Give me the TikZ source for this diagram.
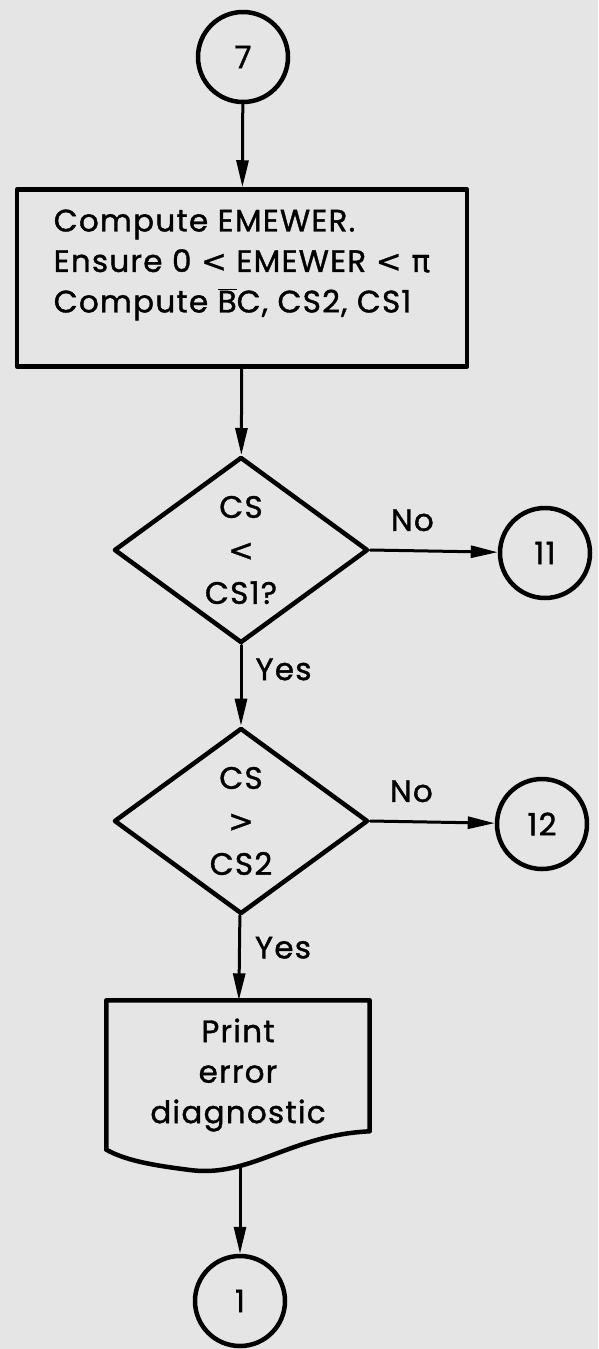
\documentclass[tikz,border=0pt]{standalone}
\usepackage{fontspec}
\setmainfont{Poppins}[FakeBold=1.2,LetterSpace=4]
\newfontfamily\symfont{DejaVu Sans}[FakeBold=1]
\usetikzlibrary{shapes.geometric,arrows.meta}
\definecolor{paper}{RGB}{229,229,229}

\begin{document}
\begin{tikzpicture}[
	x=1pt,y=-1pt,
	>={Triangle[length=27pt,width=12pt]},
	line cap=round,
	line join=round,
	font=\fontsize{31}{40.5}\selectfont,
	flowline/.style={->,line width=3pt},
	connector/.style={circle,draw,line width=4.5pt,minimum size=90pt,inner sep=0pt},
	process/.style={rectangle,draw,line width=4.5pt,minimum width=450pt,minimum height=177pt,align=left,text depth=34pt},
	decision/.style={diamond,draw,line width=4.5pt,aspect=1.37,inner sep=0pt,minimum width=254pt,minimum height=186pt,align=center,font=\fontsize{31}{43}\selectfont},
	doctext/.style={minimum width=263pt,minimum height=149pt,inner sep=0pt,align=center},
	flowlabel/.style={inner sep=0pt}
	]
	\path[use as bounding box,fill=paper] (0,0) rectangle (598,1349);

	\node[connector] (c7) at (243,57) {7};
	\node[process] (compute) at (242,278) {Compute EMEWER.\\Ensure 0 {\symfont<} EMEWER {\symfont< π}\\Compute $\overline{\mbox{B}}$C, CS2, CS1};
	\node[decision] (lowcheck) at (241,550) {CS\\{\symfont<}\\CS1?};
	\node[connector] (c11) at (545,553) {11};
	\node[decision] (highcheck) at (241,821) {CS\\{\symfont>}\\CS2};
	\node[connector] (c12) at (542,824) {12};
	\node[doctext] (diag) at (238,1075) {Print\\error\\diagnostic};
	\coordinate (diagout) at (240,1167);
	\node[connector] (c1) at (240,1301) {1};

	% printed document outline
	\draw[line width=4.5pt] (diag.south west) -- (diag.north west) -- (diag.north east) -- ++(0,131)
		.. controls (290,1135) and (250,1178) .. (190,1170)
		.. controls (150,1165) and (125,1160) .. (diag.south west);

	\draw[flowline] (c7) -- (compute);
	\draw[flowline] (compute) -- (lowcheck);
	\draw[flowline] (lowcheck.east) -- (c11) node[flowlabel,pos=0.33,above=18pt] {No};
	\draw[flowline] (lowcheck) -- (highcheck) node[flowlabel,pos=0.3,right=13pt] {Yes};
	\draw[flowline] (highcheck.east) -- (c12) node[flowlabel,pos=0.33,above=18pt] {No};
	\draw[flowline] (highcheck) -- (diag) node[flowlabel,pos=0.38,right=14pt] {Yes};
	\draw[flowline] (diagout) -- (c1);
\end{tikzpicture}
\end{document}
